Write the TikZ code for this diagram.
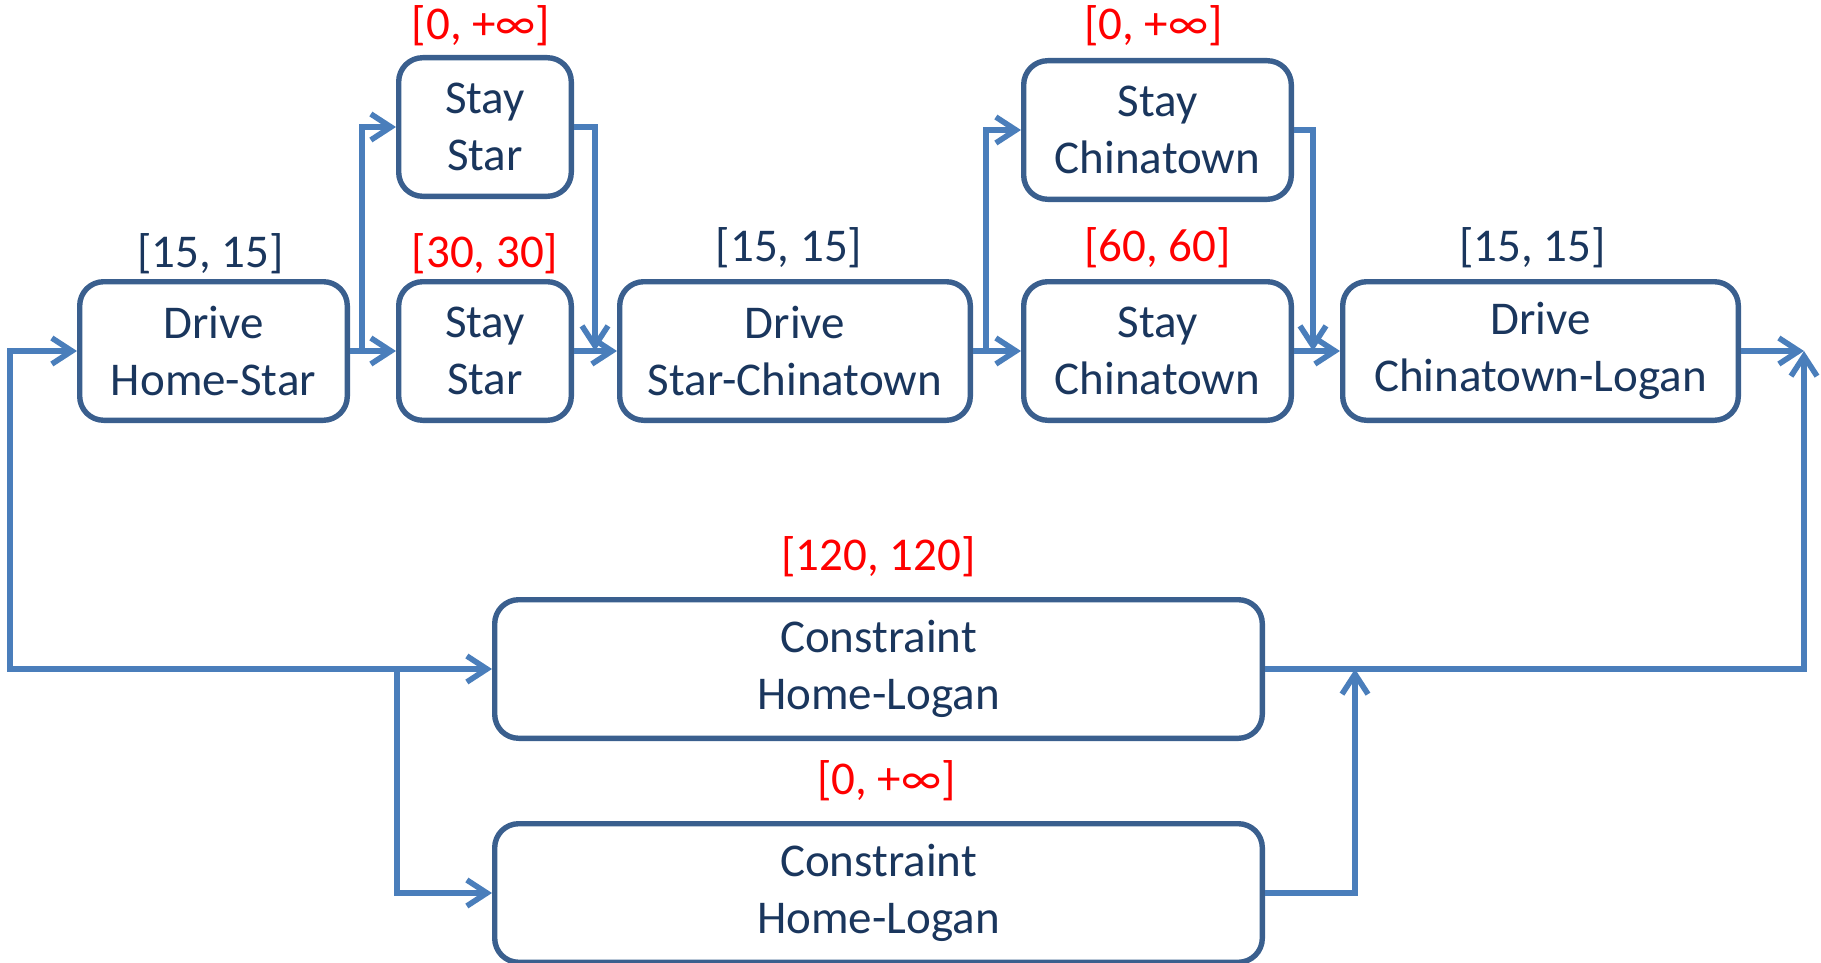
\documentclass[tikz,border=0pt]{standalone}
\usepackage{fontspec}
\setmainfont{Carlito}
\usetikzlibrary{arrows.meta}
\definecolor{boxc}{HTML}{3A5F8E}
\definecolor{txtc}{HTML}{1A365D}
\definecolor{arrc}{HTML}{4A7EBB}
\definecolor{redc}{HTML}{FF0000}
\begin{document}
\begin{tikzpicture}[x=0.5pt,y=-0.5pt,
  >={Straight Barb[length=10pt,width=13pt]},
  box/.style={draw=boxc, line width=2.7pt, rounded corners=12pt, text=txtc, align=center,
    inner sep=0pt, minimum height=69.3pt, font=\fontsize{23.5pt}{28.5pt}\selectfont},
  lbl/.style={inner sep=0pt, anchor=south, font=\fontsize{23.5pt}{28.5pt}\selectfont},
  redlbl/.style={lbl, text=redc},
  blklbl/.style={lbl, text=txtc},
  conn/.style={draw=arrc, line width=2.8pt, ->},
  bothconn/.style={draw=arrc, line width=2.8pt, <->}]
\useasboundingbox (0,0) rectangle (1821,963);

\node[box, minimum width=133.8pt] (dhs) at (213.5,351) {Drive\\Home-Star};
\node[box, minimum width=86.3pt] (sst) at (485,127) {Stay\\Star};
\node[box, minimum width=86.3pt] (ssm) at (485,351) {Stay\\Star};
\node[box, minimum width=175.3pt] (dsc) at (795,351) {Drive\\Star-Chinatown};
\node[box, minimum width=133.8pt] (sct) at (1157.5,130) {Stay\\Chinatown};
\node[box, minimum width=133.8pt] (scm) at (1157.5,351) {Stay\\Chinatown};
\node[box, minimum width=197.8pt] (dcl) at (1540.5,351) {Drive\\Chinatown-Logan};
\node[box, minimum width=383.8pt] (cht) at (878.5,669) {Constraint\\Home-Logan};
\node[box, minimum width=383.8pt] (chb) at (878.5,893) {Constraint\\Home-Logan};

\node[blklbl] (l1) at ([xshift=-1.5pt,yshift=2.5pt]dhs.north) {[15, 15]};
\node[redlbl] (l2) at ([xshift=-2pt,yshift=4.5pt]sst.north) {[0, +∞]};
\node[redlbl] (l3) at ([yshift=2.5pt]ssm.north) {[30, 30]};
\node[blklbl] (l4) at ([xshift=-3pt,yshift=5.5pt]dsc.north) {[15, 15]};
\node[redlbl] (l5) at ([xshift=-2pt,yshift=6pt]sct.north) {[0, +∞]};
\node[redlbl] (l6) at ([yshift=5.5pt]scm.north) {[60, 60]};
\node[blklbl] (l7) at ([xshift=-4pt,yshift=5.5pt]dcl.north) {[15, 15]};
\node[redlbl] (l8) at ([yshift=10pt]cht.north) {[120, 120]};
\node[redlbl] (l9) at ([xshift=4pt,yshift=10pt]chb.north) {[0, +∞]};

\coordinate (lc) at (10,669);
\coordinate (br1) at (397,669);
\coordinate (j2) at (1355,669);
\coordinate (rend) at (1804,351);
\coordinate (b1) at (362,351);
\coordinate (j1) at (595,351);
\coordinate (b2) at (986,351);
\coordinate (j3) at (1313,351);

\draw[bothconn] (dhs.west) -| (lc) -- (cht.west);
\draw[conn] (br1) |- (chb.west);
\draw[conn] (cht.east) -| (rend);
\draw[conn] (dcl.east) -- (rend);
\draw[conn] (chb.east) -| (j2);
\draw[conn] (dhs.east) -- (ssm.west);
\draw[conn] (b1) |- (sst.west);
\draw[conn] (sst.east) -| (j1);
\draw[conn] (ssm.east) -- (dsc.west);
\draw[conn] (dsc.east) -- (scm.west);
\draw[conn] (b2) |- (sct.west);
\draw[conn] (sct.east) -| (j3);
\draw[conn] (scm.east) -- (dcl.west);
\end{tikzpicture}
\end{document}
